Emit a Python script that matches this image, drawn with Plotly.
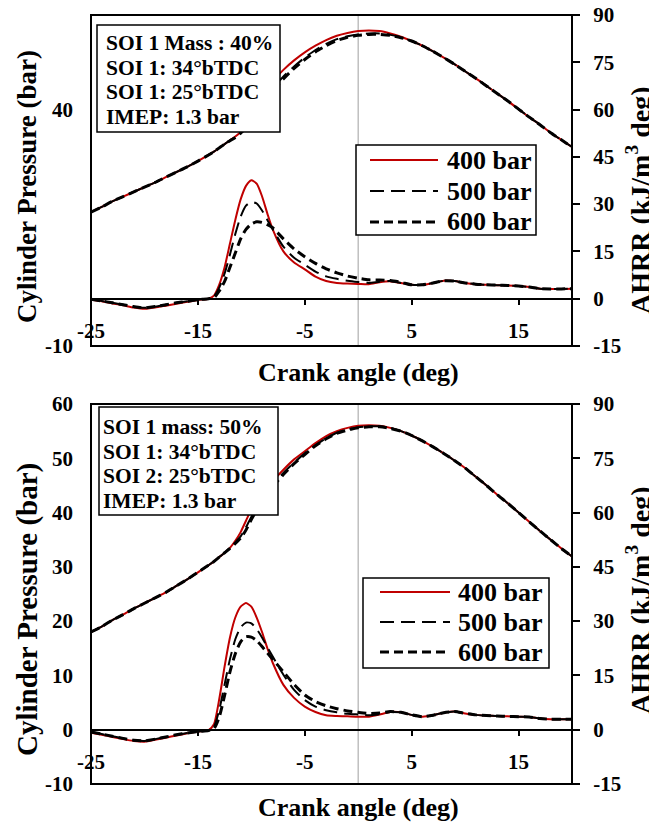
import plotly.graph_objects as go
from plotly.subplots import make_subplots

# crank angle grid (deg), finer around the heat release peak
crank = [-25, -24, -23, -22, -21, -20, -19, -18, -17, -16, -15, -14,
         -13.5, -13, -12.5, -12, -11.5, -11, -10.5, -10, -9.5, -9, -8.5, -8,
         -7, -6, -5, -4, -3, -2, -1, 0, 1, 2, 3, 4, 5, 6, 7, 8, 9, 10,
         11, 12, 13, 14, 15, 16, 17, 18, 19, 20]

labels = ["400 bar", "500 bar", "600 bar"]

# --- top panel: SOI 1 mass 40% ---
p40_400 = [18.3, 19.4, 20.6, 21.6, 22.6, 23.6, 24.6, 25.7, 26.8, 27.9, 29.1, 30.4,
           31.1, 31.9, 32.7, 33.5, 34.3, 35.3, 37.3, 39.6, 41.5, 43.2, 44.7, 46.0,
           48.4, 50.4, 52.1, 53.5, 54.7, 55.6, 56.2, 56.6,
           56.7, 56.6, 56.1, 55.4, 54.5, 53.5, 52.3, 51.0, 49.6, 48.1,
           46.6, 45.0, 43.4, 41.8, 40.1, 38.4, 36.8, 35.1, 33.6, 32.1]
p40_500 = [18.3, 19.4, 20.6, 21.6, 22.6, 23.6, 24.6, 25.7, 26.8, 27.9, 29.1, 30.4,
           31.1, 31.9, 32.7, 33.5, 34.2, 35.1, 36.6, 38.5, 40.2, 41.8, 43.3, 44.6,
           47.0, 49.1, 51.0, 52.6, 53.9, 54.9, 55.5, 55.9,
           56.1, 56.1, 55.8, 55.3, 54.5, 53.5, 52.3, 51.0, 49.6, 48.1,
           46.6, 45.0, 43.4, 41.8, 40.1, 38.4, 36.8, 35.1, 33.6, 32.1]
p40_600 = [18.3, 19.4, 20.6, 21.6, 22.6, 23.6, 24.6, 25.7, 26.8, 27.9, 29.1, 30.4,
           31.1, 31.9, 32.7, 33.4, 34.1, 35.0, 36.2, 37.8, 39.6, 41.2, 42.7, 44.1,
           46.5, 48.7, 50.6, 52.2, 53.5, 54.6, 55.3, 55.7,
           55.9, 55.9, 55.7, 55.2, 54.5, 53.5, 52.3, 51.0, 49.6, 48.1,
           46.6, 45.0, 43.4, 41.8, 40.1, 38.4, 36.8, 35.1, 33.6, 32.1]
h40_400 = [-0.3, -0.8, -1.5, -2.1, -2.8, -3.2, -2.8, -2.2, -1.6, -1.0, -0.4, 0.0,
           1.0, 4.5, 10.0, 17.5, 25.0, 31.5, 35.8, 37.6, 36.5, 32.5, 27.0, 22.0,
           15.0, 11.5, 9.3, 7.0, 5.6, 5.0, 4.8, 4.7,
           4.6, 5.2, 5.5, 5.0, 4.4, 4.4, 5.0, 5.7, 5.6, 5.0,
           4.6, 4.4, 4.3, 4.2, 4.0, 3.7, 3.2, 3.1, 3.1, 3.2]
h40_500 = [-0.2, -0.7, -1.3, -1.9, -2.5, -2.9, -2.5, -1.9, -1.3, -0.8, -0.3, 0.0,
           0.7, 3.5, 8.0, 14.0, 20.5, 26.0, 29.5, 30.7, 30.2, 28.0, 25.0, 22.0,
           16.5, 13.0, 10.8, 8.6, 7.1, 6.3, 5.7, 5.3,
           5.0, 5.4, 5.6, 5.0, 4.4, 4.4, 5.0, 5.7, 5.6, 5.0,
           4.6, 4.4, 4.3, 4.2, 4.0, 3.7, 3.2, 3.1, 3.1, 3.2]
h40_600 = [-0.2, -0.7, -1.3, -1.9, -2.5, -2.9, -2.5, -1.9, -1.3, -0.8, -0.3, 0.0,
           0.3, 2.5, 5.5, 10.0, 14.5, 19.0, 22.0, 23.7, 24.4, 24.2, 23.5, 22.5,
           19.0, 15.8, 13.3, 11.2, 9.5, 8.2, 7.2, 6.5,
           6.0, 5.9, 5.8, 5.2, 4.4, 4.4, 5.0, 5.7, 5.6, 5.0,
           4.6, 4.4, 4.3, 4.2, 4.0, 3.7, 3.2, 3.1, 3.1, 3.2]

# --- bottom panel: SOI 1 mass 50% ---
p50_400 = [18.0, 19.0, 20.2, 21.2, 22.3, 23.3, 24.3, 25.3, 26.5, 27.7, 29.0, 30.3,
           31.0, 31.8, 32.6, 33.5, 34.8, 36.4, 38.5, 40.6, 42.0, 43.3, 44.6, 45.8,
           47.9, 49.8, 51.3, 52.8, 54.1, 55.0, 55.6, 56.0,
           56.1, 56.0, 55.6, 55.0, 54.2, 53.2, 52.1, 50.9, 49.6, 48.2,
           46.6, 45.0, 43.3, 41.7, 40.0, 38.3, 36.6, 35.0, 33.4, 31.9]
p50_500 = [18.0, 19.0, 20.2, 21.2, 22.3, 23.3, 24.3, 25.3, 26.5, 27.7, 29.0, 30.3,
           31.0, 31.8, 32.6, 33.5, 34.5, 35.6, 37.3, 39.2, 41.0, 42.5, 43.9, 45.2,
           47.3, 49.2, 50.9, 52.4, 53.7, 54.7, 55.3, 55.7,
           55.9, 55.9, 55.6, 55.0, 54.2, 53.2, 52.1, 50.9, 49.6, 48.2,
           46.6, 45.0, 43.3, 41.7, 40.0, 38.3, 36.6, 35.0, 33.4, 31.9]
p50_600 = [18.0, 19.0, 20.2, 21.2, 22.3, 23.3, 24.3, 25.3, 26.5, 27.7, 29.0, 30.3,
           31.0, 31.8, 32.6, 33.4, 34.3, 35.3, 36.8, 38.7, 40.5, 42.1, 43.5, 44.8,
           47.0, 49.0, 50.7, 52.3, 53.6, 54.6, 55.2, 55.6,
           55.8, 55.8, 55.5, 55.0, 54.2, 53.2, 52.1, 50.9, 49.6, 48.2,
           46.6, 45.0, 43.3, 41.7, 40.0, 38.3, 36.6, 35.0, 33.4, 31.9]
h50_400 = [-0.8, -1.4, -2.0, -2.6, -3.1, -3.3, -2.8, -2.2, -1.6, -1.0, -0.5, -0.1,
           1.5, 8.5, 17.5, 25.5, 31.0, 34.0, 35.0, 34.0, 31.0, 27.0, 22.5, 18.5,
           12.4, 8.8, 6.4, 4.9, 4.0, 3.8, 3.7, 3.6,
           3.6, 4.2, 4.9, 4.8, 4.1, 3.6, 4.0, 4.7, 5.0, 4.5,
           4.1, 3.9, 3.8, 3.7, 3.6, 3.5, 3.1, 2.9, 2.9, 2.9]
h50_500 = [-0.6, -1.2, -1.8, -2.4, -2.9, -3.1, -2.6, -2.0, -1.4, -0.9, -0.5, -0.2,
           0.8, 5.5, 12.5, 19.5, 25.0, 28.3, 29.6, 29.4, 27.8, 25.5, 22.8, 20.2,
           15.2, 11.0, 8.2, 6.4, 5.4, 4.8, 4.4, 4.2,
           4.0, 4.3, 4.9, 4.8, 4.1, 3.6, 4.0, 4.7, 5.0, 4.5,
           4.1, 3.9, 3.8, 3.7, 3.6, 3.5, 3.1, 2.9, 2.9, 2.9]
h50_600 = [-0.6, -1.2, -1.8, -2.4, -2.9, -3.1, -2.6, -2.0, -1.4, -0.9, -0.5, -0.2,
           0.3, 3.5, 9.5, 16.0, 21.0, 24.3, 25.7, 25.6, 24.6, 23.0, 21.2, 19.5,
           16.0, 12.5, 9.6, 7.8, 6.6, 5.8, 5.2, 4.8,
           4.5, 4.6, 5.0, 4.8, 4.1, 3.6, 4.0, 4.7, 5.0, 4.5,
           4.1, 3.9, 3.8, 3.7, 3.6, 3.5, 3.1, 2.9, 2.9, 2.9]

xticks = [-25, -15, -5, 5, 15]
yticks_top = [-10, 40]
yticks_bot = [-10, 0, 10, 20, 30, 40, 50, 60]
y2ticks = [-15, 0, 15, 30, 45, 60, 75, 90]

info40 = ["SOI 1 Mass : 40%", "SOI 1: 34°bTDC", "SOI 1: 25°bTDC", "IMEP: 1.3 bar"]
info50 = ["SOI 1 mass: 50%", "SOI 1: 34°bTDC", "SOI 2: 25°bTDC", "IMEP: 1.3 bar"]

FONT = "Liberation Serif"
styles = [dict(color="#C00000", width=2, dash="solid"),
          dict(color="black", width=2, dash="14px,7px"),
          dict(color="black", width=3, dash="9px,5px")]

W, H = 657, 823
OFF = 8  # page body margin in the browser shot
# plot-area edges in screen pixels
X0, X1 = 91, 572
TOP = (15, 346)
BOT = (404, 784)
ml, mr, mt, mb = X0 - OFF, W - (X1 - OFF), TOP[0] - OFF, H - (BOT[1] - OFF)
ph = H - mt - mb
top_dom = [(BOT[1] - TOP[1]) / ph, 1.0]
bot_dom = [0.0, (BOT[1] - BOT[0]) / ph]
yrng = [-10, 60]
y2rng = [-15, 90]

def py(pix):  # screen row -> paper y
    return (BOT[1] - pix) / ph

def px(pix):  # screen column -> paper x
    return (pix - X0) / (X1 - X0)

fig = make_subplots(rows=2, cols=1, specs=[[{"secondary_y": True}], [{"secondary_y": True}]])

panels = [(1, [p40_400, p40_500, p40_600], [h40_400, h40_500, h40_600]),
          (2, [p50_400, p50_500, p50_600], [h50_400, h50_500, h50_600])]
for row, pres, ahrr in panels:
    for i in range(3):
        fig.add_trace(go.Scatter(x=crank, y=pres[i], mode="lines", name=labels[i],
                                 line=dict(shape="spline", smoothing=0.6, **styles[i]),
                                 showlegend=False),
                      row=row, col=1, secondary_y=False)
        fig.add_trace(go.Scatter(x=crank, y=ahrr[i], mode="lines", name=labels[i],
                                 line=dict(shape="spline", smoothing=0.6, **styles[i]),
                                 showlegend=False),
                      row=row, col=1, secondary_y=True)

tickfont = dict(family=FONT, size=21, color="black", weight="bold")
for row, dom in [(1, top_dom), (2, bot_dom)]:
    zero_pos = dom[0] + (0 - yrng[0]) / (yrng[1] - yrng[0]) * (dom[1] - dom[0])
    yt = yticks_top if row == 1 else yticks_bot
    fig.update_xaxes(range=[-25, 20], domain=[0, 1], tickvals=xticks,
                     ticktext=[str(v) for v in xticks],
                     ticks="outside", ticklen=5, tickwidth=2, tickcolor="black", showline=True,
                     linecolor="black", linewidth=2, showgrid=False, zeroline=False,
                     anchor="free", position=zero_pos, automargin=False, ticklabeloverflow="allow",
                     tickfont=tickfont, ticklabelstandoff=8, row=row, col=1)
    fig.update_yaxes(range=yrng, domain=dom, showgrid=False, zeroline=False, ticks="",
                     tickvals=yt, ticktext=[str(v) for v in yt], automargin=False,
                     ticklabeloverflow="allow",
                     tickfont=tickfont, ticklabelstandoff=17, row=row, col=1, secondary_y=False)
    fig.update_yaxes(range=y2rng, domain=dom, showgrid=False, zeroline=False, ticks="outside",
                     ticklen=7, tickwidth=2, tickcolor="black", tickvals=y2ticks,
                     ticktext=[str(v) for v in y2ticks], tickfont=tickfont, automargin=False,
                     ticklabeloverflow="allow",
                     ticklabelstandoff=9, row=row, col=1, secondary_y=True)

# frames and TDC marker
for xa, ya in [("x", "y"), ("x2", "y3")]:
    fig.add_shape(type="line", x0=0, x1=0, y0=0, y1=1, xref=xa, yref=ya + " domain",
                  line=dict(color="#BFBFBF", width=1.5), layer="below")
    fig.add_shape(type="rect", x0=0, x1=1, y0=0, y1=1, xref=xa + " domain", yref=ya + " domain",
                  line=dict(color="black", width=2))

def title_font(size):
    return dict(family=FONT, size=size, color="black", weight="bold")

boxfont = dict(family=FONT, size=21.5, color="black", weight="bold")
legfont = dict(family=FONT, size=26, color="black", weight="bold")

panel_layout = [
    # left title (centre, size), right title centre, x-title centre, info box, text x, first line y,
    # legend box, legend line x range, legend text x, legend row ys
    dict(yl=187, sl=27, yr=200, yx=372, box=(97, 280, 25, 132), tx=104, ty=43, info=info40,
         lbox=(356, 536, 145, 235), lx=(370, 438), ltx=445, lrows=(160, 191, 222)),
    dict(yl=610, sl=29, yr=600, yx=808, box=(99, 278, 407, 515), tx=101, ty=427, info=info50,
         lbox=(363, 549, 578, 668), lx=(380, 450), ltx=456, lrows=(592, 622, 652)),
]

ann = []
for p in panel_layout:
    ann.append(dict(text="Cylinder Pressure (bar)", x=px(27), y=py(p["yl"]), textangle=-90,
                    xanchor="center", yanchor="middle",
                    xref="paper", yref="paper", showarrow=False, font=title_font(p["sl"])))
    ann.append(dict(text="AHRR (kJ/m<sup>3</sup> deg)", x=px(638), y=py(p["yr"]), textangle=-90,
                    xanchor="center", yanchor="middle",
                    xref="paper", yref="paper", showarrow=False, font=title_font(28)))
    ann.append(dict(text="Crank angle (deg)", x=px(358), y=py(p["yx"]), xanchor="center",
                    yanchor="middle", xref="paper", yref="paper", showarrow=False,
                    font=title_font(26)))
    # condition box
    b = p["box"]
    fig.add_shape(type="rect", xref="paper", yref="paper", x0=px(b[0]), x1=px(b[1]),
                  y0=py(b[3]), y1=py(b[2]), line=dict(color="black", width=1.5),
                  fillcolor="white", layer="above")
    for k, line in enumerate(p["info"]):
        ann.append(dict(text=line, x=px(p["tx"]), y=py(p["ty"] + 24.7 * k), xanchor="left",
                        yanchor="middle", xref="paper", yref="paper", showarrow=False,
                        font=boxfont))
    # legend box
    lb = p["lbox"]
    fig.add_shape(type="rect", xref="paper", yref="paper", x0=px(lb[0]), x1=px(lb[1]),
                  y0=py(lb[3]), y1=py(lb[2]), line=dict(color="black", width=1.5),
                  fillcolor="white", layer="above")
    for k, ry in enumerate(p["lrows"]):
        fig.add_shape(type="line", xref="paper", yref="paper", x0=px(p["lx"][0]),
                      x1=px(p["lx"][1]), y0=py(ry), y1=py(ry), line=styles[k], layer="above")
        ann.append(dict(text=labels[k], x=px(p["ltx"]), y=py(ry), xanchor="left",
                        yanchor="middle", xref="paper", yref="paper", showarrow=False,
                        font=legfont))

fig.update_layout(
    width=W, height=H, margin=dict(l=ml, r=mr, t=mt, b=mb, autoexpand=False),
    paper_bgcolor="white", plot_bgcolor="white",
    annotations=ann, showlegend=False,
)

fig.write_html("out.html")
